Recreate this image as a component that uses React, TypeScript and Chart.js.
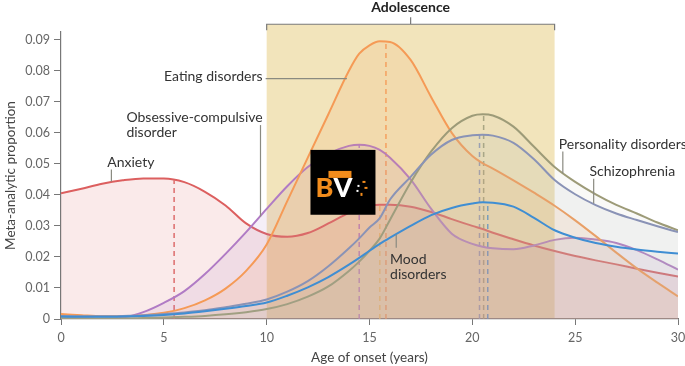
import React, { useEffect, useRef } from 'react';
import { Chart, registerables } from 'chart.js';

Chart.register(...registerables);

// ---------- DATA ----------
const ages = [0, 1, 2, 3, 4, 5, 6, 7, 8, 9, 10, 11, 12, 13, 14, 14.5, 15, 15.5, 16, 17, 18, 19, 20, 20.5, 21, 22, 23, 24, 25, 26, 27, 28, 29, 30];

const anxiety = [0.0405, 0.042, 0.0436, 0.0447, 0.0453, 0.0453, 0.0441, 0.041, 0.0366, 0.0308, 0.0274, 0.0265, 0.0277, 0.0308, 0.0342, 0.0355, 0.0364, 0.0368, 0.0368, 0.0362, 0.0345, 0.0322, 0.03, 0.029, 0.0278, 0.0257, 0.0237, 0.0219, 0.0203, 0.0189, 0.0176, 0.0162, 0.0149, 0.0137];
const ocd = [0.0009, 0.0004, 0.0001, 0.0004, 0.0022, 0.0052, 0.009, 0.0145, 0.021, 0.028, 0.0355, 0.0428, 0.049, 0.0533, 0.0558, 0.0562, 0.0558, 0.0545, 0.052, 0.045, 0.0355, 0.0275, 0.0242, 0.0233, 0.0228, 0.0225, 0.0237, 0.0255, 0.0262, 0.0256, 0.0245, 0.0222, 0.0192, 0.0159];
const eating = [0.0016, 0.0012, 0.0009, 0.0009, 0.0012, 0.002, 0.0035, 0.006, 0.0098, 0.0155, 0.024, 0.038, 0.052, 0.066, 0.08, 0.0855, 0.0882, 0.0895, 0.0893, 0.0835, 0.0715, 0.06, 0.0525, 0.0502, 0.0485, 0.0447, 0.0407, 0.0365, 0.0318, 0.0267, 0.0214, 0.0163, 0.0117, 0.0073];
const mood = [0.0008, 0.0007, 0.0007, 0.0008, 0.001, 0.0013, 0.0018, 0.0025, 0.0033, 0.0042, 0.0053, 0.0075, 0.0102, 0.0135, 0.0175, 0.0197, 0.022, 0.0242, 0.0262, 0.03, 0.0335, 0.0358, 0.0372, 0.0376, 0.0375, 0.0362, 0.0326, 0.0286, 0.0262, 0.0245, 0.0233, 0.0224, 0.0217, 0.0211];
const schizophrenia = [0.001, 0.0009, 0.0009, 0.001, 0.0012, 0.0016, 0.0021, 0.0028, 0.0038, 0.0049, 0.0063, 0.0088, 0.0122, 0.017, 0.0228, 0.026, 0.0295, 0.0325, 0.0385, 0.0458, 0.053, 0.0577, 0.0592, 0.0594, 0.0591, 0.0568, 0.0515, 0.0448, 0.0402, 0.0367, 0.034, 0.0319, 0.0299, 0.028];
const personality = [0.0003, 0.0002, 0.0002, 0.0002, 0.0003, 0.0005, 0.0007, 0.001, 0.0015, 0.0022, 0.0032, 0.0048, 0.0072, 0.0105, 0.0155, 0.0185, 0.022, 0.026, 0.032, 0.044, 0.054, 0.0615, 0.0655, 0.066, 0.0656, 0.062, 0.0555, 0.049, 0.0442, 0.0402, 0.0368, 0.034, 0.0311, 0.0286];

const xTickValues = [0, 5, 10, 15, 20, 25, 30];
const yTickValues = [0, 0.01, 0.02, 0.03, 0.04, 0.05, 0.06, 0.07, 0.08, 0.09];
const xTitle = 'Age of onset (years)';
const yTitle = 'Meta-analytic proportion';

const adolescenceRange = [10, 24];
const adolescenceLabel = 'Adolescence';

const peakAges = [5.5, 14.5, 15.5, 15.8, 20.35, 20.55, 20.75];
const peakValues = [0.0447, 0.0562, 0.0365, 0.0895, 0.0594, 0.066, 0.0376];

// ---------- STYLE ----------
const FONT = 'Lato, "Open Sans", sans-serif';
const C = {
  anxiety: '#dc5f5f',
  ocd: '#b07bc5',
  eating: '#f59a56',
  mood: '#3f8ed3',
  schizo: '#8a93b6',
  personality: '#9d9b78',
};
const peakColors = [C.anxiety, C.ocd, '#f3c463', C.eating, C.schizo, C.personality, C.mood];

function rgba(hex: string, a: number) {
  const n = parseInt(hex.slice(1), 16);
  return `rgba(${(n >> 16) & 255},${(n >> 8) & 255},${n & 255},${a})`;
}

// index 0 is drawn last (on top)
const seriesList = [
  { label: 'Mood disorders', values: mood, color: C.mood, alpha: 0.08, fill: '#b9c4c4' },
  { label: 'Schizophrenia', values: schizophrenia, color: C.schizo, alpha: 0.1, fill: '#a9aeb0' },
  { label: 'Personality disorders', values: personality, color: C.personality, alpha: 0.1, fill: '#c4c4ad' },
  { label: 'Eating disorders', values: eating, color: C.eating, alpha: 0.13, fill: C.eating },
  { label: 'Obsessive-compulsive disorder', values: ocd, color: C.ocd, alpha: 0.12, fill: C.ocd },
  { label: 'Anxiety', values: anxiety, color: C.anxiety, alpha: 0.13, fill: C.anxiety },
];

// annotation labels in data units
const annotations = [
  { lines: ['Eating disorders'], x: 9.8, y: 0.0782, align: 'right', leader: [9.95, 0.0775, 13.9, 0.0775] },
  { lines: ['Obsessive-compulsive', 'disorder'], x: 3.18, y: 0.0649, align: 'left', leader: [9.7, 0.0625, 9.7, 0.033] },
  { lines: ['Anxiety'], x: 2.25, y: 0.0504, align: 'left', leader: [2.45, 0.0482, 2.45, 0.0443] },
  { lines: ['Mood', 'disorders'], x: 16.0, y: 0.0191, align: 'left', leader: [16.3, 0.0272, 16.3, 0.023] },
  { lines: ['Personality disorders'], x: 24.2, y: 0.0562, align: 'left', leader: [24.4, 0.054, 24.4, 0.047] },
  { lines: ['Schizophrenia'], x: 25.7, y: 0.0475, align: 'left', leader: [25.9, 0.0452, 25.9, 0.0372] },
];

const decorPlugin = {
  id: 'decor',
  beforeDraw(chart: any) {
    const { ctx, scales } = chart;
    const x = scales.x, y = scales.y;
    const x0 = x.getPixelForValue(adolescenceRange[0]);
    const x1 = x.getPixelForValue(adolescenceRange[1]);
    const yb = y.getPixelForValue(0);
    const yt = y.getPixelForValue(0.095);
    ctx.save();
    ctx.fillStyle = '#f2e4bb';
    ctx.fillRect(x0, yt, x1 - x0, yb - yt);
    ctx.strokeStyle = '#7a7a7a';
    ctx.lineWidth = 1.2;
    ctx.beginPath();
    ctx.moveTo(x0, yt + 6);
    ctx.lineTo(x0, yt);
    ctx.lineTo(x1, yt);
    ctx.lineTo(x1, yt + 6);
    const xm = (x0 + x1) / 2;
    ctx.moveTo(xm, yt);
    ctx.lineTo(xm, yt - 7);
    ctx.stroke();
    ctx.fillStyle = '#222';
    ctx.font = `bold 14px ${FONT}`;
    ctx.textAlign = 'center';
    ctx.textBaseline = 'middle';
    ctx.fillText(adolescenceLabel, xm, yt - 17);
    ctx.restore();
  },
  beforeDatasetsDraw(chart: any) {
    const { ctx, scales } = chart;
    const x = scales.x, y = scales.y;
    ctx.save();
    ctx.lineWidth = 1.5;
    ctx.setLineDash([5, 4]);
    peakAges.forEach((a, i) => {
      const px = x.getPixelForValue(a);
      ctx.strokeStyle = rgba(peakColors[i], 0.9);
      ctx.beginPath();
      ctx.moveTo(px, y.getPixelForValue(0));
      ctx.lineTo(px, y.getPixelForValue(peakValues[i]));
      ctx.stroke();
    });
    ctx.restore();
  },
  afterDatasetsDraw(chart: any) {
    const { ctx, scales } = chart;
    const x = scales.x, y = scales.y;
    ctx.save();
    ctx.font = `14px ${FONT}`;
    ctx.textBaseline = 'middle';
    annotations.forEach((a) => {
      ctx.fillStyle = '#333';
      ctx.textAlign = a.align as CanvasTextAlign;
      const px = x.getPixelForValue(a.x);
      const py = y.getPixelForValue(a.y);
      a.lines.forEach((l, i) => ctx.fillText(l, px, py + i * 15));
      const [lx0, ly0, lx1, ly1] = a.leader;
      ctx.strokeStyle = '#8a8a80';
      ctx.lineWidth = 1.2;
      ctx.beginPath();
      ctx.moveTo(x.getPixelForValue(lx0), y.getPixelForValue(ly0));
      ctx.lineTo(x.getPixelForValue(lx1), y.getPixelForValue(ly1));
      ctx.stroke();
    });
    // logo watermark
    const lx = x.getPixelForValue(12.13);
    const ly = y.getPixelForValue(0.0545);
    const lw = x.getPixelForValue(15.29) - lx;
    const lh = y.getPixelForValue(0.0336) - ly;
    ctx.fillStyle = '#000';
    ctx.fillRect(lx, ly, lw, lh);
    ctx.fillStyle = '#f28c1c';
    ctx.fillRect(lx + 18, ly + 21, 23, 7);
    ctx.font = `900 27px ${FONT}`;
    ctx.textAlign = 'left';
    ctx.textBaseline = 'alphabetic';
    ctx.fillText('B', lx + 5, ly + 47);
    ctx.fillStyle = '#fff';
    ctx.fillText('V', lx + 23, ly + 47);
    ctx.fillStyle = '#f28c1c';
    ctx.fillRect(lx + 52, ly + 31, 3, 2);
    ctx.fillRect(lx + 54, ly + 37, 3, 2);
    ctx.fillRect(lx + 50, ly + 43, 2, 3);
    ctx.fillStyle = '#fff';
    ctx.fillRect(lx + 47, ly + 35, 2, 2);
    ctx.fillRect(lx + 46, ly + 40, 2, 2);
    ctx.restore();
  },
};

export default function App() {
  const ref = useRef<HTMLCanvasElement | null>(null);
  useEffect(() => {
    if (!ref.current) return;
    const chart = new Chart(ref.current, {
      type: 'line',
      data: {
        datasets: seriesList.map((s) => ({
          label: s.label,
          data: ages.map((a, i) => ({ x: a, y: s.values[i] })),
          borderColor: s.color,
          backgroundColor: rgba(s.fill, s.alpha),
          fill: 'origin',
          borderWidth: 2,
          pointRadius: 0,
          cubicInterpolationMode: 'monotone',
        })),
      },
      options: {
        animation: false,
        responsive: false,
        maintainAspectRatio: false,
        layout: { padding: { left: 0, right: 7, top: 32, bottom: 0 } },
        plugins: {
          legend: { display: false },
          tooltip: { enabled: false },
        } as any,
        scales: {
          x: {
            type: 'linear',
            min: 0,
            max: 30,
            afterBuildTicks: (s: any) => { s.ticks = xTickValues.map((v) => ({ value: v })); },
            afterFit: (s: any) => { s.height = 47; s.paddingLeft = 0; s.paddingRight = 0; },
            ticks: { color: '#666', font: { family: FONT, size: 12.5 }, padding: 5, maxRotation: 0 },
            grid: { drawOnChartArea: false, drawTicks: true, tickLength: 6, color: '#777' },
            border: { display: true, color: '#777', width: 1.2 },
            title: { display: true, text: xTitle, color: '#444', font: { family: FONT, size: 13.5 }, padding: { top: 2, bottom: 0 } },
          },
          y: {
            type: 'linear',
            min: 0,
            max: 0.0925,
            afterBuildTicks: (s: any) => { s.ticks = yTickValues.map((v) => ({ value: v })); },
            afterFit: (s: any) => { s.width = 61; s.paddingTop = 0; s.paddingBottom = 0; },
            ticks: {
              color: '#666',
              font: { family: FONT, size: 12.5 },
              padding: 4,
              callback: (v: any) => (Number(v) === 0 ? '0' : Number(v).toFixed(2)),
            },
            grid: { drawOnChartArea: false, drawTicks: true, tickLength: 7, color: '#777' },
            border: { display: true, color: '#777', width: 1.2 },
            title: { display: true, text: yTitle, color: '#444', font: { family: FONT, size: 13.5 }, padding: { top: 3, bottom: 0 } },
          },
        },
      } as any,
      plugins: [decorPlugin],
    });
    return () => chart.destroy();
  }, []);
  return (
    <div style={{ position: 'fixed', left: 0, top: 0, width: 685, height: 366, background: '#fff' }}>
      <canvas ref={ref} width={685} height={366} style={{ width: 685, height: 366, display: 'block' }} />
    </div>
  );
}
